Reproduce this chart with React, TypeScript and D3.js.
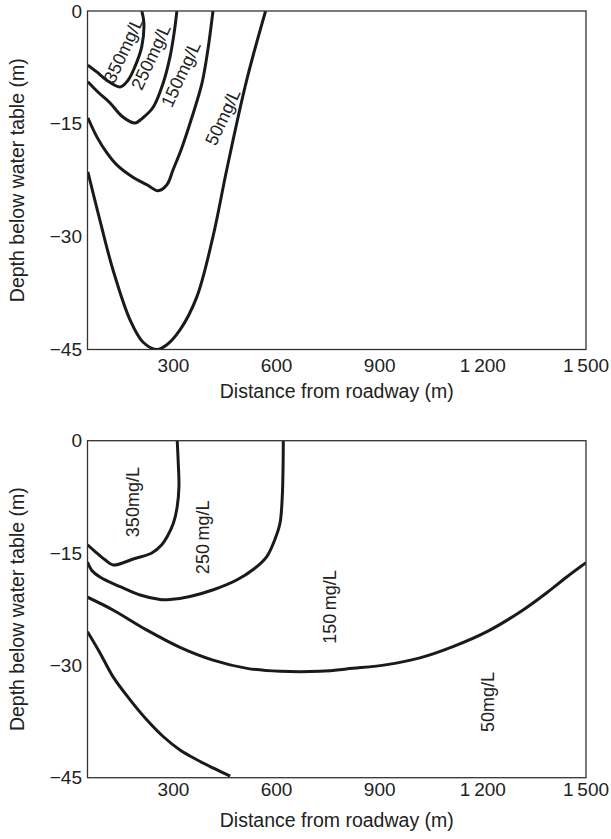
import React from "react";
import * as d3 from "d3";

// ---- Data (distance m, depth m) ----
const xTicks = [300, 600, 900, 1200, 1500];
const xTickLabels = ["300", "600", "900", "1\u2009200", "1\u2009500"];
const yTicks = [0, -15, -30, -45];
const yTickLabels = ["0", "\u221215", "\u221230", "\u221245"];

// Upper panel contours
const top350: [number, number][] = [
  [51, -7.2], [77, -8.1], [106, -9.2], [145, -10.1], [168, -9.2], [188, -7.4], [208, -4.7], [214, -1.6], [208, 0],
];
const top250: [number, number][] = [
  [51, -9.4], [81, -10.8], [115, -12.2], [153, -14.1], [188, -14.9], [211, -14.2], [241, -12.8], [270, -9.6], [290, -6.1], [302, -2.9], [310, 0],
];
const top150: [number, number][] = [
  [51, -14.2], [78, -16.8], [107, -18.9], [136, -20.5], [182, -22.1], [223, -23.1], [255, -23.9], [281, -23.1], [299, -21.1], [325, -18.1], [354, -14.1], [383, -9.6], [400, -5.2], [415, 0],
];
const top50: [number, number][] = [
  [51, -21.4], [86, -27.8], [124, -34.4], [174, -41.1], [211, -44.0], [251, -45.0], [280, -44.4], [319, -42.4], [368, -38.0], [415, -30.0], [455, -21.1], [513, -9.2], [568, 0],
];

// Lower panel contours
const bot350: [number, number][] = [
  [50, -13.9], [72, -14.8], [101, -15.9], [125, -16.6], [183, -15.8], [237, -15.0], [266, -13.9], [282, -12.8], [300, -11.0], [311, -8.8], [316, -6.1], [314, -3.0], [311, 0],
];
const bot250: [number, number][] = [
  [50, -16.2], [62, -17.3], [86, -18.2], [145, -19.5], [203, -20.6], [261, -21.2], [290, -21.2], [348, -20.8], [416, -19.9], [484, -18.6], [532, -17.2], [571, -15.5], [595, -13.2], [610, -11.0], [616.5, -7.5], [619, -3.0], [619.5, 0],
];
const bot150: [number, number][] = [
  [50, -20.9], [124, -22.6], [223, -25.3], [319, -27.6], [415, -29.3], [514, -30.4], [610, -30.8], [726, -30.8], [822, -30.4], [921, -29.9], [1017, -29.0], [1113, -27.5], [1212, -25.5], [1317, -22.6], [1386, -20.3], [1444, -18.2], [1500, -16.3],
];
const bot50: [number, number][] = [
  [50, -25.5], [86, -28.3], [124, -31.5], [174, -34.6], [223, -37.3], [270, -39.5], [319, -41.3], [368, -42.6], [415, -43.7], [465, -44.8],
];

// Contour labels: [text, x, y]
const topLabels: [string, number, number][] = [
  ["350mg/L", 155, -5.2],
  ["250mg/L", 235, -6.1],
  ["150mg/L", 322, -8.4],
  ["50mg/L", 444, -14.1],
];
const botLabels: [string, number, number][] = [
  ["350mg/L", 183, -8.2],
  ["250\u2009mg/L", 386, -12.9],
  ["150\u2009mg/L", 755, -22.2],
  ["50mg/L", 1215, -34.9],
];

const xTitle = "Distance from roadway (m)";
const yTitle = "Depth below water table (m)";

const W = 611;
const H = 839;
const FONT = "'Liberation Sans', Arial, Helvetica, sans-serif";
const TXT = "#222";

type PanelProps = {
  top: number;
  bottom: number;
  curves: [number, number][][];
  labels: [string, number, number][];
  labelAngle: number;
  tickBase: number;
  titleBase: number;
};

const left = 87.5;
const right = 586;

function Panel({ top, bottom, curves, labels, labelAngle, tickBase, titleBase }: PanelProps) {
  const x = d3.scaleLinear().domain([50, 1500]).range([left, right]);
  const y = d3.scaleLinear().domain([-45, 0]).range([bottom, top]);
  const line = d3
    .line<[number, number]>()
    .x((d) => x(d[0]))
    .y((d) => y(d[1]))
    .curve(d3.curveCatmullRom.alpha(0.5));
  const midY = (top + bottom) / 2;
  return (
    <g>
      <defs>
        <clipPath id={`clip${top}`}>
          <rect x={left} y={top} width={right - left} height={bottom - top} />
        </clipPath>
      </defs>
      <g clipPath={`url(#clip${top})`}>
        {curves.map((c, i) => (
          <path key={i} d={line(c) || ""} fill="none" stroke="#1a1a1a" strokeWidth={3} strokeLinejoin="round" />
        ))}
      </g>
      <rect x={left} y={top} width={right - left} height={bottom - top} fill="none" stroke="#333" strokeWidth={1.3} />
      {labels.map(([t, lx, ly], i) => (
        <text
          key={i}
          transform={`translate(${x(lx)},${y(ly)}) rotate(${labelAngle})`}
          textAnchor="middle"
          dominantBaseline="central"
          fontSize={18}
          fontFamily={FONT}
          fill={TXT}
        >
          {t}
        </text>
      ))}
      {yTicks.map((v, i) => (
        <text key={i} x={82} y={y(v)} textAnchor="end" dominantBaseline="central" fontSize={19} fontFamily={FONT} fill={TXT}>
          {yTickLabels[i]}
        </text>
      ))}
      {xTicks.map((v, i) => (
        <text key={i} x={x(v)} y={tickBase} textAnchor="middle" fontSize={19} fontFamily={FONT} fill={TXT}>
          {xTickLabels[i]}
        </text>
      ))}
      <text x={(left + right) / 2} y={titleBase} textAnchor="middle" fontSize={19.5} fontFamily={FONT} fill={TXT}>
        {xTitle}
      </text>
      <text
        transform={`translate(23.5,${midY}) rotate(-90)`}
        textAnchor="middle"
        fontSize={19.5}
        fontFamily={FONT}
        fill={TXT}
      >
        {yTitle}
      </text>
    </g>
  );
}

export default function App() {
  return (
    <svg
      width={W}
      height={H}
      viewBox={`0 0 ${W} ${H}`}
      style={{ position: "absolute", left: 0, top: 0, background: "#fff" }}
    >
      <rect width={W} height={H} fill="#fff" />
      <Panel
        top={11}
        bottom={349.5}
        curves={[top350, top250, top150, top50]}
        labels={topLabels}
        labelAngle={-65}
        tickBase={372}
        titleBase={398}
      />
      <Panel
        top={440.7}
        bottom={777.7}
        curves={[bot350, bot250, bot150, bot50]}
        labels={botLabels}
        labelAngle={-90}
        tickBase={796}
        titleBase={827}
      />
    </svg>
  );
}
